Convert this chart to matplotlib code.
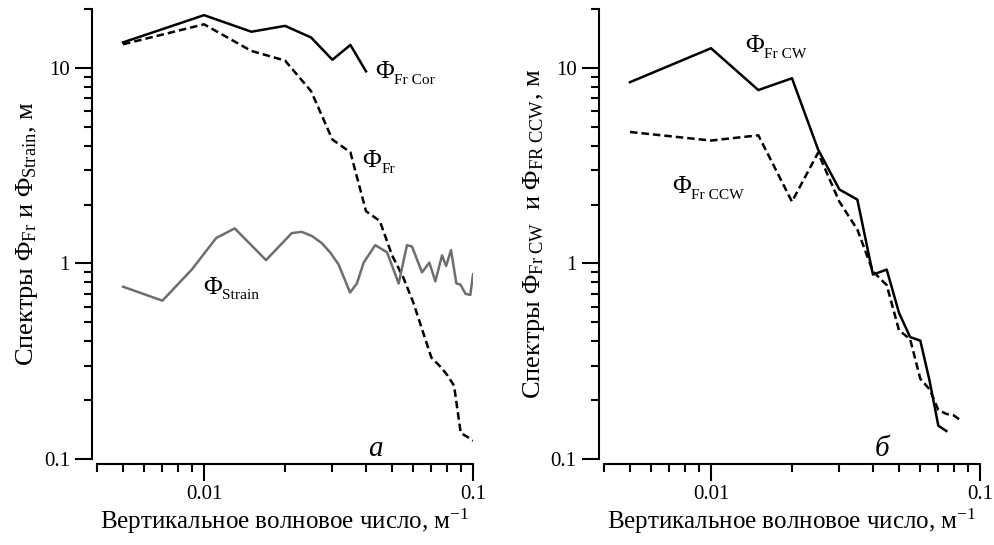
import numpy as np
import matplotlib
matplotlib.use('Agg')
import matplotlib.pyplot as plt
from matplotlib.ticker import LogLocator, NullFormatter, StrMethodFormatter

plt.rcParams['font.family'] = ['Liberation Serif', 'DejaVu Serif']
plt.rcParams['mathtext.fontset'] = 'custom'
plt.rcParams['mathtext.rm'] = 'Liberation Serif'
plt.rcParams['mathtext.it'] = 'Liberation Serif:italic'
plt.rcParams['mathtext.bf'] = 'Liberation Serif:bold'

# левая панель (а)
k_cor = [0.005, 0.01, 0.015, 0.02, 0.025, 0.03, 0.035, 0.04]
s_cor = [13.5, 18.6, 15.3, 16.4, 14.3, 11.0, 13.1, 9.6]

k_fr = [0.005, 0.01, 0.015, 0.02, 0.025, 0.03, 0.035, 0.04, 0.045, 0.05,
        0.055, 0.06, 0.065, 0.07, 0.075, 0.08, 0.085, 0.09, 0.095, 0.1]
s_fr = [13.2, 16.7, 12.2, 10.9, 7.6, 4.3, 3.7, 1.85, 1.65, 1.1,
        0.85, 0.63, 0.45, 0.33, 0.30, 0.27, 0.237, 0.136, 0.13, 0.124]

k_st = [0.005, 0.007, 0.009, 0.0111, 0.013, 0.017, 0.0212, 0.0231, 0.0252, 0.0274,
        0.0294, 0.0316, 0.0349, 0.037, 0.0392, 0.0433, 0.0479, 0.0529, 0.0568, 0.0593,
        0.0646, 0.0688, 0.0724, 0.0767, 0.0794, 0.0828, 0.0867, 0.0897, 0.0937, 0.0977, 0.1]
s_st = [0.76, 0.645, 0.93, 1.35, 1.51, 1.04, 1.43, 1.45, 1.38, 1.27,
        1.14, 0.99, 0.71, 0.79, 1.01, 1.24, 1.14, 0.79, 1.24, 1.22,
        0.90, 1.01, 0.81, 1.10, 0.97, 1.17, 0.79, 0.78, 0.70, 0.69, 0.88]

# правая панель (б)
k_cw = [0.005, 0.01, 0.015, 0.02, 0.025, 0.03, 0.035, 0.04, 0.045, 0.05,
        0.055, 0.06, 0.065, 0.07, 0.075]
s_cw = [8.45, 12.6, 7.7, 8.85, 3.83, 2.39, 2.12, 0.877, 0.93, 0.559,
        0.42, 0.403, 0.25, 0.148, 0.139]

k_ccw = [0.005, 0.01, 0.015, 0.02, 0.025, 0.03, 0.035, 0.04, 0.045, 0.05,
         0.055, 0.06, 0.065, 0.07, 0.075, 0.08, 0.085]
s_ccw = [4.7, 4.25, 4.52, 2.07, 3.68, 2.07, 1.49, 0.91, 0.775, 0.455,
         0.41, 0.257, 0.227, 0.178, 0.17, 0.167, 0.157]

xlabel = 'Вертикальное волновое число, м$^{-1}$'
ylabel_a = 'Спектры Φ$_{\\mathrm{Fr}}$ и Φ$_{\\mathrm{Strain}}$, м'
ylabel_b = 'Спектры Φ$_{\\mathrm{Fr\\ CW}}$  и Φ$_{\\mathrm{FR\\ CCW}}$, м'

dash = (0, (3, 1.6))


def style_axes(ax, ylabel):
    ax.set_xscale('log')
    ax.set_yscale('log')
    ax.set_xlim(0.004, 0.1)
    ax.set_ylim(0.1, 20)
    for s in ['top', 'right']:
        ax.spines[s].set_visible(False)
    for s in ['left', 'bottom']:
        ax.spines[s].set_position(('outward', 3.6))
        ax.spines[s].set_linewidth(1.5)
    ax.xaxis.set_major_locator(LogLocator(base=10))
    ax.yaxis.set_major_locator(LogLocator(base=10))
    ax.xaxis.set_minor_locator(LogLocator(base=10, subs=np.arange(2, 10)))
    ax.yaxis.set_minor_locator(LogLocator(base=10, subs=np.arange(2, 10)))
    ax.xaxis.set_major_formatter(StrMethodFormatter('{x:g}'))
    ax.yaxis.set_major_formatter(StrMethodFormatter('{x:g}'))
    ax.xaxis.set_minor_formatter(NullFormatter())
    ax.yaxis.set_minor_formatter(NullFormatter())
    ax.tick_params(which='major', length=12, width=1.5, labelsize=15, pad=3)
    ax.tick_params(which='minor', length=6, width=1.5)
    ax.tick_params(axis='y', which='major', pad=4)
    ax.set_xlabel(xlabel, fontsize=18, labelpad=2)
    ax.set_ylabel(ylabel, fontsize=19, labelpad=3)


def phi_label(ax, x, y, sub, size=18.5):
    t = ax.text(x, y, 'Φ', fontsize=size, ha='left', va='baseline')
    ax.annotate(sub, xy=(1, 0), xycoords=t, xytext=(0.5, -0.5), textcoords='offset points',
                fontsize=size * 0.6, ha='left', va='baseline')


fig = plt.figure(figsize=(9.94, 5.45), dpi=100)
ax1 = fig.add_axes([0.0976, 0.1578, 0.3783, 0.8257])
ax2 = fig.add_axes([0.6076, 0.1578, 0.3783, 0.8257])

ax1.plot(k_cor, s_cor, color='black', lw=1.8)
ax1.plot(k_fr, s_fr, color='black', lw=1.8, ls=dash)
ax1.plot(k_st, s_st, color='#6e6e6e', lw=1.8)
style_axes(ax1, ylabel_a)
phi_label(ax1, 0.0432, 8.84, 'Fr Cor')
phi_label(ax1, 0.0387, 3.1, 'Fr')
phi_label(ax1, 0.0099, 0.70, 'Strain')
ax1.text(0.0407, 0.104, 'а', fontsize=21, style='italic', ha='left', va='baseline')

ax2.plot(k_cw, s_cw, color='black', lw=1.8)
ax2.plot(k_ccw, s_ccw, color='black', lw=1.8, ls=dash)
style_axes(ax2, ylabel_b)
phi_label(ax2, 0.01337, 12.0, 'Fr CW')
phi_label(ax2, 0.00716, 2.28, 'Fr CCW')
ax2.text(0.0407, 0.104, 'б', fontsize=21, style='italic', ha='left', va='baseline')

fig.savefig('out.png', dpi=100)
